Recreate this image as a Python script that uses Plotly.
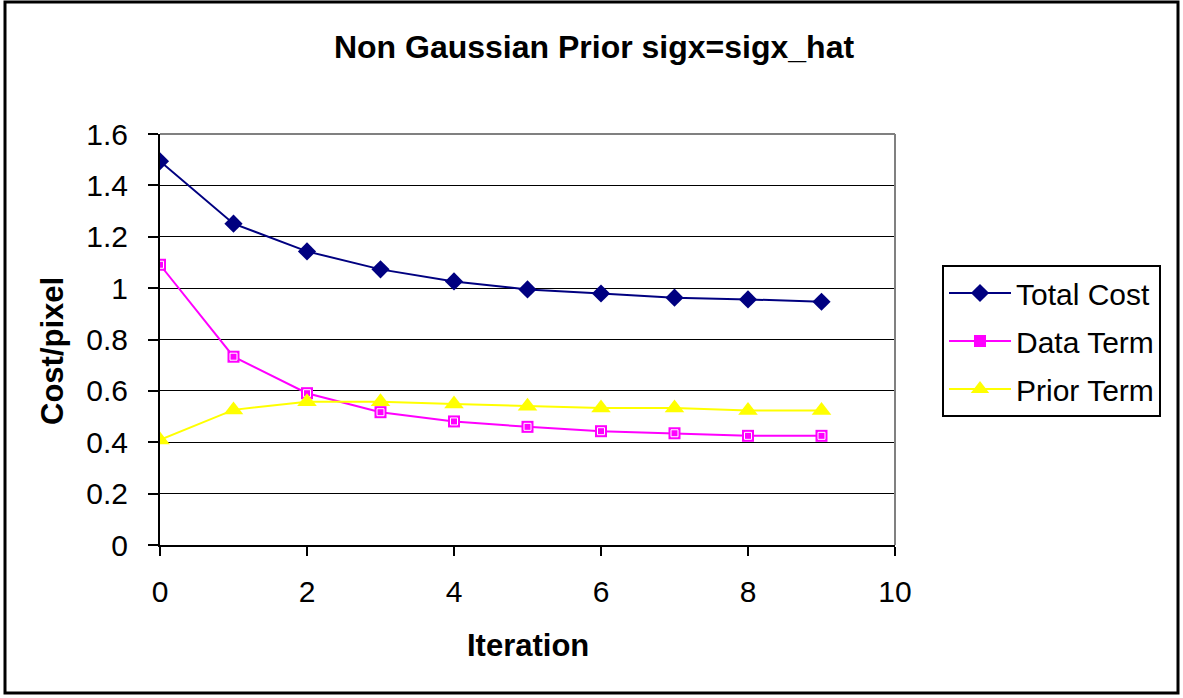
import plotly.graph_objects as go

iterations = [0, 1, 2, 3, 4, 5, 6, 7, 8, 9]
total_cost = [1.494, 1.251, 1.143, 1.073, 1.026, 0.995, 0.979, 0.963, 0.956, 0.947]
data_term = [1.091, 0.733, 0.591, 0.517, 0.481, 0.460, 0.443, 0.435, 0.425, 0.425]
prior_term = [0.409, 0.526, 0.558, 0.558, 0.549, 0.540, 0.533, 0.533, 0.524, 0.524]
x_ticks = [0, 2, 4, 6, 8, 10]
y_ticks = [0, 0.2, 0.4, 0.6, 0.8, 1.0, 1.2, 1.4, 1.6]
y_tick_labels = ["0", "0.2", "0.4", "0.6", "0.8", "1", "1.2", "1.4", "1.6"]

FONT = "Arial, Liberation Sans, sans-serif"

fig = go.Figure()
fig.add_trace(go.Scatter(
    x=iterations, y=total_cost, name="Total Cost", mode="lines+markers", legendgroup="a",
    line=dict(color="#000080", width=2),
    marker=dict(symbol="diamond", size=14, color="#000080")))
fig.add_trace(go.Scatter(
    x=iterations, y=data_term, name="Data Term", mode="lines+markers", legendgroup="b",
    line=dict(color="#FF00FF", width=2),
    marker=dict(symbol="square", size=12, color="#FF00FF")))
fig.add_trace(go.Scatter(
    x=iterations, y=data_term, mode="markers", showlegend=False, hoverinfo="skip", legendgroup="b",
    marker=dict(symbol="square-open", size=7, color="white", line=dict(width=1, color="white"))))
fig.add_trace(go.Scatter(
    x=iterations, y=prior_term, name="Prior Term", mode="lines+markers", legendgroup="c",
    line=dict(color="#FFFF00", width=2),
    marker=dict(symbol="triangle-up", size=17, color="#FFFF00")))

L, R, T, B = 160, 288, 134, 153
W, H = 1183, 698
pw, ph = W - L - R, H - T - B

def px(x):
    return (x - L) / pw

def py(y):
    return (H - B - y) / ph

fig.update_layout(
    width=W, height=H,
    margin=dict(l=L, r=R, t=T, b=B),
    paper_bgcolor="white", plot_bgcolor="white",
    font=dict(family=FONT, size=30, color="black"),
    title=dict(text="<b>Non Gaussian Prior sigx=sigx_hat</b>", x=594 / W, xanchor="center",
               y=1 - 47 / H, yanchor="middle", font=dict(size=32, family=FONT)),
    xaxis=dict(range=[0, 10], tickvals=x_ticks, ticktext=[str(v) for v in x_ticks],
               showgrid=False, zeroline=False, showline=True, linecolor="black", linewidth=2,
               ticks="outside", ticklen=9, tickwidth=2, tickcolor="black",
               ticklabelstandoff=10, tickfont=dict(size=30)),
    yaxis=dict(range=[0, 1.6], tickvals=y_ticks, ticktext=y_tick_labels,
               showgrid=True, gridcolor="black", gridwidth=1, zeroline=False,
               showline=True, linecolor="black", linewidth=2,
               ticks="outside", ticklen=10, tickwidth=2, tickcolor="black",
               ticklabelstandoff=14, tickfont=dict(size=30)),
    legend=dict(x=px(942), y=py(265), xanchor="left", yanchor="top",
                bordercolor="black", borderwidth=2, bgcolor="white",
                font=dict(size=30, family=FONT), itemwidth=62,
                traceorder="grouped", tracegroupgap=6),
    showlegend=True,
    annotations=[
        dict(text="<b>Iteration</b>", xref="paper", yref="paper", x=0.5, y=py(645),
             xanchor="center", yanchor="middle", showarrow=False, font=dict(size=31)),
        dict(text="<b>Cost/pixel</b>", xref="paper", yref="paper", x=px(52), y=py(351),
             xanchor="center", yanchor="middle", showarrow=False, textangle=-90,
             font=dict(size=31)),
    ],
    shapes=[
        dict(type="line", xref="paper", yref="paper", x0=0, x1=1, y0=1, y1=1,
             line=dict(color="#808080", width=2)),
        dict(type="line", xref="paper", yref="paper", x0=1, x1=1, y0=0, y1=1,
             line=dict(color="#808080", width=2)),
        dict(type="rect", xref="paper", yref="paper", x0=px(5), x1=px(1178), y0=py(693), y1=py(2),
             line=dict(color="black", width=3)),
    ],
)

fig.write_html("out.html", config={"displayModeBar": False},
               post_script="document.body.style.margin='0';document.body.style.overflow='hidden';")
